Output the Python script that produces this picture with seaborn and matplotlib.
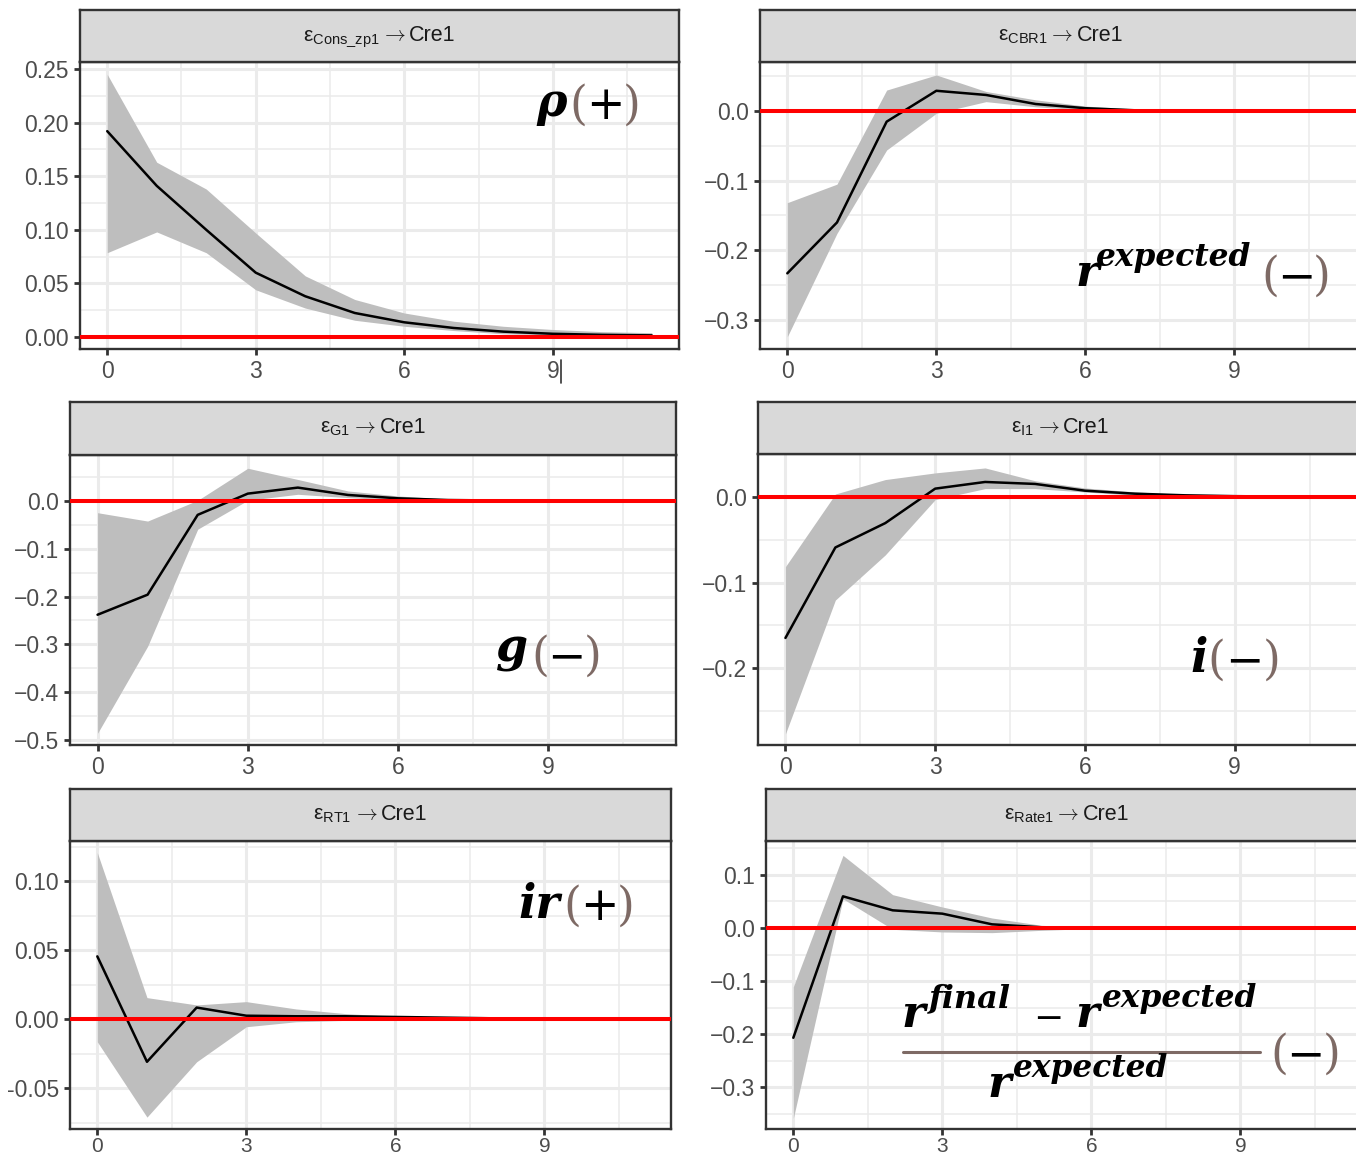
import numpy as np
import pandas as pd
import matplotlib
matplotlib.use('Agg')
import matplotlib.pyplot as plt
import seaborn as sns
from matplotlib.lines import Line2D
from matplotlib.ticker import FixedLocator, AutoMinorLocator

# ---------------- data ----------------
horizon = list(range(12))

cons_irf = [0.192, 0.141, 0.100, 0.060, 0.038, 0.0224, 0.0137, 0.0084, 0.005, 0.003, 0.002, 0.0015]
cons_hi = [0.245, 0.163, 0.138, 0.097, 0.057, 0.035, 0.0224, 0.0147, 0.010, 0.007, 0.005, 0.004]
cons_lo = [0.0786, 0.098, 0.0786, 0.044, 0.027, 0.0156, 0.010, 0.006, 0.003, 0.002, 0.001, 0.001]

cbr_irf = [-0.233, -0.160, -0.0153, 0.029, 0.023, 0.010, 0.004, 0.001, 0.0, 0.0, 0.0, 0.0]
cbr_hi = [-0.1316, -0.105, 0.030, 0.0517, 0.028, 0.016, 0.007, 0.003, 0.001, 0.0, 0.0, 0.0]
cbr_lo = [-0.324, -0.1756, -0.056, -0.0033, 0.0134, 0.006, 0.0014, 0.0, 0.0, 0.0, 0.0, 0.0]

g_irf = [-0.238, -0.196, -0.029, 0.0154, 0.028, 0.0126, 0.0056, 0.002, 0.001, 0.0, 0.0, 0.0]
g_hi = [-0.0245, -0.042, 0.0014, 0.0685, 0.045, 0.021, 0.0105, 0.004, 0.002, 0.001, 0.001, 0.0]
g_lo = [-0.486, -0.304, -0.059, 0.0014, 0.014, 0.007, 0.0014, 0.0, 0.0, 0.0, 0.0, 0.0]

i_irf = [-0.1648, -0.059, -0.0305, 0.0098, 0.0176, 0.0153, 0.0074, 0.0039, 0.002, 0.001, 0.0005, 0.0]
i_hi = [-0.0814, 0.0035, 0.0204, 0.0282, 0.034, 0.019, 0.0106, 0.006, 0.003, 0.002, 0.001, 0.001]
i_lo = [-0.277, -0.1205, -0.0677, -0.003, 0.0098, 0.0098, 0.0059, 0.002, 0.001, 0.0, 0.0, 0.0]

rt_irf = [0.0454, -0.031, 0.0083, 0.0024, 0.002, 0.002, 0.0015, 0.001, 0.0005, 0.0, 0.0, 0.0]
rt_hi = [0.1206, 0.0155, 0.0102, 0.0126, 0.0073, 0.0039, 0.002, 0.001, 0.0005, 0.0, 0.0, 0.0]
rt_lo = [-0.0165, -0.0711, -0.031, -0.0056, -0.002, -0.001, 0.0, 0.0, 0.0, 0.0, 0.0, 0.0]

rate_irf = [-0.207, 0.0597, 0.0333, 0.027, 0.0069, 0.0013, 0.0, 0.0, 0.0, 0.0, 0.0, 0.0]
rate_hi = [-0.111, 0.1369, 0.0628, 0.0396, 0.0188, 0.005, 0.001, 0.0, 0.0, 0.0, 0.0, 0.0]
rate_lo = [-0.359, 0.055, -0.0025, -0.0075, -0.0088, -0.0044, -0.001, 0.0, 0.0, 0.0, 0.0, 0.0]

shock_names = ['Cons\\_zp1', 'CBR1', 'G1', 'I1', 'RT1', 'Rate1']
response_name = 'Cre1'

x_ticks = [0, 3, 6, 9]
x_ticklabels = ['0', '3', '6', '9']

yt_cons = [0.0, 0.05, 0.10, 0.15, 0.20, 0.25]
yl_cons = ['0.00', '0.05', '0.10', '0.15', '0.20', '0.25']
yt_cbr = [-0.3, -0.2, -0.1, 0.0]
yl_cbr = ['−0.3', '−0.2', '−0.1', '0.0']
yt_g = [-0.5, -0.4, -0.3, -0.2, -0.1, 0.0]
yl_g = ['−0.5', '−0.4', '−0.3', '−0.2', '−0.1', '0.0']
yt_i = [-0.2, -0.1, 0.0]
yl_i = ['−0.2', '−0.1', '0.0']
yt_rt = [-0.05, 0.0, 0.05, 0.10]
yl_rt = ['-0.05', '0.00', '0.05', '0.10']
yt_rate = [-0.3, -0.2, -0.1, 0.0, 0.1]
yl_rate = ['−0.3', '−0.2', '−0.1', '0.0', '0.1']

# ---------------- style ----------------
sns.set_theme(style='white')
plt.rcParams['font.family'] = ['Liberation Sans', 'DejaVu Sans']
plt.rcParams['mathtext.fontset'] = 'custom'
plt.rcParams['mathtext.rm'] = 'Liberation Sans'
plt.rcParams['mathtext.it'] = 'Liberation Sans:italic'
plt.rcParams['mathtext.bf'] = 'Liberation Sans:bold'
plt.rcParams['axes.unicode_minus'] = True

W, H = 1356, 1160
fig = plt.figure(figsize=(W / 100, H / 100), dpi=100)
fig.patch.set_facecolor('white')
renderer = fig.canvas.get_renderer()


def fbox(l, t, r, b):
    return [l / W, 1 - b / H, (r - l) / W, (b - t) / H]


def ftext(x, y, s, **kw):
    return fig.text(x / W, 1 - y / H, s, **kw)


BORDER = '#333333'
GRID = '#EBEBEB'
BAND = '#BEBEBE'

panels = [
    dict(box=(80, 679, 10, 62, 349), ylim=(-0.0112, 0.2565), yt=yt_cons, yl=yl_cons,
         irf=cons_irf, lo=cons_lo, hi=cons_hi, shock=shock_names[0], bottom_row=False),
    dict(box=(760, 1361, 10, 62, 349), ylim=(-0.3416, 0.0703), yt=yt_cbr, yl=yl_cbr,
         irf=cbr_irf, lo=cbr_lo, hi=cbr_hi, shock=shock_names[1], bottom_row=False),
    dict(box=(70, 676, 402, 455, 745), ylim=(-0.5105, 0.0962), yt=yt_g, yl=yl_g,
         irf=g_irf, lo=g_lo, hi=g_hi, shock=shock_names[2], bottom_row=False),
    dict(box=(758, 1362, 402, 454, 745), ylim=(-0.290, 0.0503), yt=yt_i, yl=yl_i,
         irf=i_irf, lo=i_lo, hi=i_hi, shock=shock_names[3], bottom_row=False),
    dict(box=(70, 671, 789, 841, 1129), ylim=(-0.0797, 0.129), yt=yt_rt, yl=yl_rt,
         irf=rt_irf, lo=rt_lo, hi=rt_hi, shock=shock_names[4], bottom_row=True),
    dict(box=(766, 1367, 789, 841, 1129), ylim=(-0.379, 0.164), yt=yt_rate, yl=yl_rate,
         irf=rate_irf, lo=rate_lo, hi=rate_hi, shock=shock_names[5], bottom_row=True),
]


def strip_title(cx, y, shock):
    """Three pieces: epsilon with subscript, a long thin arrow, response name."""
    t1 = ftext(0, y, 'ε$_{\\mathrm{%s}}$' % shock, fontsize=15, color='#1A1A1A', va='baseline', ha='left')
    t2 = ftext(0, y, r'$\rightarrow$', fontsize=15, color='#1A1A1A', va='baseline', ha='left',
               math_fontfamily='cm')
    t3 = ftext(0, y, response_name, fontsize=15.5, color='#1A1A1A', va='baseline', ha='left')
    gaps = [1, 3, 0]
    ws = [t.get_window_extent(renderer).width for t in (t1, t2, t3)]
    total = sum(ws) + sum(gaps)
    x = cx - total / 2
    for t, w, g in zip((t1, t2, t3), ws, gaps):
        t.set_x(x / W)
        x += w + g


for p in panels:
    l, r, st, pt, b = p['box']
    ax = fig.add_axes(fbox(l, pt, r, b))
    ax.set_facecolor('white')
    ax.set_axisbelow(True)
    df = pd.DataFrame({'h': horizon, 'irf': p['irf'], 'lo': p['lo'], 'hi': p['hi']})
    ax.fill_between(df['h'], df['lo'], df['hi'], color=BAND, lw=0, zorder=2)
    sns.lineplot(data=df, x='h', y='irf', ax=ax, color='black', lw=1.8, zorder=3)
    ax.axhline(0, color='#FF0000', lw=2.9, zorder=4)
    ax.set_xlim(-0.55, 11.55)
    ax.set_ylim(*p['ylim'])
    ax.xaxis.set_major_locator(FixedLocator(x_ticks))
    ax.set_xticklabels(x_ticklabels)
    ax.yaxis.set_major_locator(FixedLocator(p['yt']))
    ax.set_yticklabels(p['yl'])
    ax.xaxis.set_minor_locator(AutoMinorLocator(2))
    ax.yaxis.set_minor_locator(AutoMinorLocator(2))
    ax.grid(which='major', color=GRID, lw=2.2)
    ax.grid(which='minor', color=GRID, lw=1.1)
    ax.tick_params(which='major', length=4, width=2, color=BORDER, labelsize=16.5,
                   labelcolor='#4D4D4D', pad=4, bottom=True, left=True)
    if p['bottom_row']:
        ax.tick_params(axis='x', which='major', labelsize=15, pad=1.5)
    ax.tick_params(which='minor', length=0)
    ax.set_xlabel('')
    ax.set_ylabel('')
    for sp in ax.spines.values():
        sp.set_color(BORDER)
        sp.set_linewidth(1.7)
        sp.set_visible(True)

    axs = fig.add_axes(fbox(l, st, r, pt))
    axs.set_facecolor('#D9D9D9')
    axs.set_xticks([])
    axs.set_yticks([])
    for sp in axs.spines.values():
        sp.set_color(BORDER)
        sp.set_linewidth(1.7)
        sp.set_visible(True)
    strip_title((l + r) / 2, st + 31, p['shock'])

# ---------------- annotations ----------------
BROWN = '#7E6A65'

LET = dict(family='DejaVu Serif', style='italic', weight='bold', color='black',
           va='baseline', ha='left')
PAR = dict(family='DejaVu Serif', color=BROWN, va='baseline', fontsize=33)
SGN = dict(family='DejaVu Serif', color='black', va='baseline', ha='center', fontsize=33)


def paren_group(xl, xr, y, sign):
    ftext(xl, y, '(', ha='left', **PAR)
    ftext(xr, y, ')', ha='right', **PAR)
    ftext((xl + xr) / 2, y, sign, **SGN)


# rho (+)
ftext(536, 116, 'ρ', fontsize=33, **LET)
paren_group(569, 641, 119, '+')
# r^expected (-)
ftext(1075, 286, 'r', fontsize=32, **LET)
ftext(1096, 266, 'expected', fontsize=22.5, **LET)
paren_group(1261, 1331, 290, '−')
# g (-)
ftext(496, 662, 'g', fontsize=33, **LET)
paren_group(531, 602, 670, '−')
# i (-)
ftext(1190, 672, 'i', fontsize=33, **LET)
paren_group(1207, 1281, 674, '−')
# ir (+)
ftext(518, 918, 'ir', fontsize=33, **LET)
paren_group(563, 635, 920, '+')
# fraction
ftext(901, 1027, 'r', fontsize=32, **LET)
ftext(929, 1007, 'final', fontsize=23, **LET)
ftext(1048, 1029, '−', family='DejaVu Serif', color='black', va='baseline', ha='center', fontsize=26)
ftext(1076, 1027, 'r', fontsize=32, **LET)
ftext(1102, 1007, 'expected', fontsize=22.5, **LET)
fig.add_artist(Line2D([903 / W, 1260 / W], [1 - 1052 / H, 1 - 1052 / H], color=BROWN, lw=2.2))
ftext(988, 1097, 'r', fontsize=32, **LET)
ftext(1013, 1077, 'expected', fontsize=22.5, **LET)
paren_group(1270, 1341, 1068, '−')

# text cursor artifact in first panel
fig.add_artist(Line2D([561 / W, 561 / W], [1 - 360 / H, 1 - 383 / H], color='#333333', lw=1.2))

fig.savefig('out.png', dpi=100, facecolor='white')
